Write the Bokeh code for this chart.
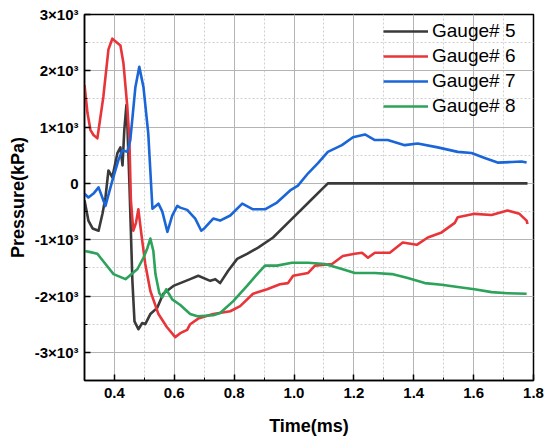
from bokeh.plotting import figure
from bokeh.models import (SingleIntervalTicker, PrintfTickFormatter, CustomJSTickFormatter,
                          Legend, LegendItem, Range1d)
from bokeh.embed import file_html
from bokeh.resources import INLINE

# ---- data ----
t5 = [0.30, 0.313, 0.327, 0.347, 0.36, 0.37, 0.38, 0.393, 0.41, 0.42, 0.427, 0.433, 0.44, 0.443,
      0.45, 0.46, 0.467, 0.48, 0.493, 0.503, 0.52, 0.543, 0.563, 0.597, 0.62, 0.653, 0.68, 0.72,
      0.737, 0.753, 0.78, 0.81, 0.843, 0.88, 0.93, 0.987, 1.05, 1.113, 1.2, 1.4, 1.6, 1.78]
p5 = [-300, -660, -800, -840, -540, -250, 230, 110, 540, 640, 320, 950, 1390, 1070,
      0, -1730, -2450, -2590, -2480, -2500, -2320, -2210, -1960, -1820, -1770, -1700, -1640, -1730,
      -1700, -1770, -1550, -1340, -1250, -1140, -960, -660, -330, 0, 0, 0, 0, 0]

t6 = [0.30, 0.31, 0.32, 0.33, 0.343, 0.363, 0.38, 0.393, 0.42, 0.43, 0.443, 0.45, 0.455, 0.463,
      0.472, 0.48, 0.49, 0.503, 0.52, 0.547, 0.575, 0.603, 0.62, 0.643, 0.653, 0.68, 0.73, 0.787,
      0.82, 0.863, 0.91, 0.953, 0.98, 0.997, 1.047, 1.07, 1.127, 1.163, 1.203, 1.227, 1.247, 1.27,
      1.32, 1.363, 1.41, 1.447, 1.493, 1.537, 1.547, 1.603, 1.66, 1.713, 1.753, 1.777, 1.78]
p6 = [1750, 1250, 946, 860, 800, 1540, 2380, 2570, 2450, 2140, 1360, 770, -300, -840,
      -700, -460, -900, -1430, -1910, -2320, -2550, -2730, -2660, -2600, -2500, -2400, -2320, -2270,
      -2180, -1960, -1880, -1790, -1770, -1640, -1590, -1460, -1430, -1290, -1250, -1230, -1320, -1230,
      -1230, -1050, -1090, -960, -870, -700, -600, -540, -560, -480, -540, -660, -720]

t7 = [0.30, 0.313, 0.33, 0.347, 0.37, 0.393, 0.413, 0.427, 0.443, 0.453, 0.47, 0.483, 0.497, 0.513,
      0.527, 0.547, 0.56, 0.577, 0.593, 0.61, 0.62, 0.643, 0.67, 0.69, 0.70, 0.73, 0.753, 0.787,
      0.827, 0.863, 0.903, 0.943, 0.987, 1.013, 1.047, 1.08, 1.113, 1.16, 1.197, 1.237, 1.27, 1.313,
      1.37, 1.413, 1.48, 1.547, 1.593, 1.637, 1.68, 1.727, 1.76, 1.777]
p7 = [-180, -250, -180, -70, -400, 50, 410, 590, 560, 770, 1710, 2070, 1710, 890,
      -450, -360, -500, -860, -570, -400, -430, -470, -625, -840, -800, -625, -660, -570,
      -360, -460, -460, -340, -125, -40, 180, 360, 560, 680, 820, 870, 770, 770,
      680, 710, 640, 560, 540, 450, 370, 380, 390, 370]

t8 = [0.30, 0.32, 0.343, 0.37, 0.397, 0.437, 0.477, 0.497, 0.51, 0.52, 0.53, 0.537, 0.55, 0.56,
      0.573, 0.593, 0.62, 0.653, 0.677, 0.73, 0.753, 0.797, 0.843, 0.877, 0.903, 0.943, 0.993,
      1.047, 1.103, 1.16, 1.203, 1.27, 1.327, 1.38, 1.437, 1.493, 1.547, 1.603, 1.66, 1.713, 1.777]
p8 = [-1200, -1220, -1250, -1430, -1610, -1700, -1520, -1320, -1150, -980, -1200, -1610, -1950, -2020,
      -1880, -2060, -2160, -2320, -2360, -2340, -2300, -2090, -1820, -1610, -1460, -1460, -1410,
      -1410, -1430, -1520, -1590, -1590, -1610, -1680, -1770, -1800, -1840, -1880, -1930, -1950, -1960]

labels = ["Gauge# 5", "Gauge# 6", "Gauge# 7", "Gauge# 8"]
colors = ["#3a3a3a", "#e8353a", "#1a66d8", "#2ca25a"]

FONT = "Liberation Sans"

p = figure(width=550, height=441, output_backend="svg", toolbar_location=None,
           x_range=Range1d(0.3, 1.8), y_range=Range1d(-3500, 3000),
           min_border_left=84, min_border_top=14, min_border_right=17, min_border_bottom=61)
p.background_fill_color = "white"
p.border_fill_color = "white"
p.outline_line_color = "black"
p.outline_line_width = 1.5

p.xaxis.ticker = SingleIntervalTicker(interval=0.2, num_minor_ticks=2)
p.yaxis.ticker = SingleIntervalTicker(interval=1000, num_minor_ticks=2)
p.xaxis.formatter = PrintfTickFormatter(format="%.1f")
p.yaxis.formatter = CustomJSTickFormatter(code="""
if (Math.abs(tick) < 1e-9) return '0';
return (tick/1000).toFixed(0) + '\u00d710\u00b3';
""")

for ax in (p.xaxis, p.yaxis):
    ax.axis_line_color = "black"
    ax.axis_line_width = 1.5
    ax.major_tick_line_color = "black"
    ax.major_tick_line_width = 1.5
    ax.minor_tick_line_color = "black"
    ax.minor_tick_line_width = 1
    ax.major_tick_in = 6
    ax.major_tick_out = 0
    ax.minor_tick_in = 3
    ax.minor_tick_out = 0
    ax.major_label_text_font = FONT
    ax.major_label_text_font_style = "bold"
    ax.major_label_text_font_size = "15px"
    ax.major_label_text_color = "black"
    ax.axis_label_text_font = FONT
    ax.axis_label_text_font_style = "bold"
    ax.axis_label_text_font_size = "18px"
    ax.axis_label_text_color = "black"

p.xaxis.axis_label = "Time(ms)"
p.yaxis.axis_label = "Pressure(kPa)"
p.xaxis.major_label_standoff = 7
p.yaxis.major_label_standoff = 6
p.xaxis.axis_label_standoff = 15
p.yaxis.axis_label_standoff = 4

for g in (p.xgrid, p.ygrid):
    g.grid_line_color = "#b4b4b4"
    g.grid_line_width = 1
    g.minor_grid_line_color = "#cfcfcf"
    g.minor_grid_line_dash = "2 2"
    g.minor_grid_line_width = 1

series = [(t5, p5), (t6, p6), (t7, p7), (t8, p8)]
items = []
for (tx, py), lab, col in zip(series, labels, colors):
    r = p.line(tx, py, line_color=col, line_width=2.6, line_join="round")
    items.append(LegendItem(label=lab, renderers=[r]))

legend = Legend(items=items, location=(299, 263), orientation="vertical",
                border_line_color=None, background_fill_alpha=0,
                glyph_width=45, glyph_height=20, label_height=20, label_standoff=4,
                spacing=3, padding=0, margin=0,
                label_text_font=FONT, label_text_font_size="19px", label_text_color="black")
p.add_layout(legend, "center")

open("out.html", "w").write(file_html(p, INLINE))
